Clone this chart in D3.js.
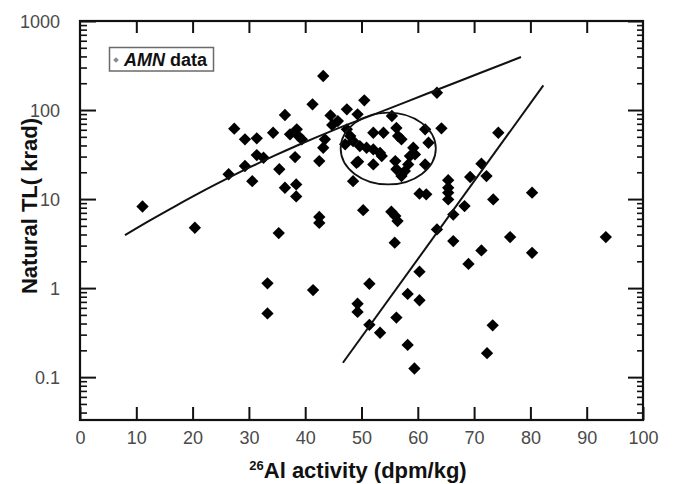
<!DOCTYPE html>
<html>
<head>
<meta charset="utf-8">
<script src="https://cdn.jsdelivr.net/npm/d3@7"></script>
<style>
  body { margin: 0; background: #fff; }
  svg { display: block; }
</style>
</head>
<body>
<svg id="chart" width="676" height="484"></svg>
<script>
// 26Al activity (dpm/kg) of each meteorite
const alActivity = [
  11.1, 20.4, 26.4, 27.4, 29.3, 31.4, 29.3, 30.6, 31.4, 32.6,
  34.3, 35.4, 36.4, 36.4, 37.3, 38.5, 38.8, 39.4, 38.2, 38.4,
  38.4, 35.3, 41.3, 42.5, 42.5, 42.5, 43.2, 43.2, 43.5, 44.5,
  44.8, 45.8, 33.3, 33.3, 41.4, 47.4, 50.5, 49.3, 47.4, 48.0,
  47.1, 48.5, 49.4, 52.1, 53.9, 55.4, 56.2, 56.5, 57.1, 61.3,
  61.9, 49.7, 50.9, 52.1, 53.3, 53.6, 49.1, 52.1, 56.0, 56.2,
  59.2, 58.6, 59.5, 58.3, 57.7, 57.1, 61.3, 63.4, 64.2, 48.5,
  60.3, 61.5, 65.4, 65.4, 65.4, 65.4, 69.3, 71.3, 72.2, 73.4,
  80.3, 74.3, 50.3, 55.3, 56.0, 56.4, 68.3, 66.3, 63.4, 76.4,
  93.4, 55.9, 66.3, 71.3, 80.3, 69.0, 60.3, 51.4, 58.2, 60.3,
  49.3, 49.3, 51.4, 56.2, 53.3, 58.2, 59.4, 73.3, 72.3
];
// Natural TL (krad) of each meteorite
const naturalTL = [
  8.25, 4.76, 19.0, 61.7, 46.9, 48.1, 23.5, 15.9, 31.2, 29.1,
  55.6, 21.6, 87.9, 13.4, 53.3, 60.7, 51.0, 46.9, 29.6, 14.6,
  10.7, 4.15, 116, 26.7, 6.3, 5.4, 241, 37.7, 46.9, 87.0,
  67.9, 75.2, 1.13, 0.52, 0.95, 101.8, 128.5, 89.5, 60.7, 51.0,
  41.2, 44.9, 26.3, 55.6, 55.6, 85.7, 63.0, 51.0, 46.9, 60.7,
  42.9, 39.4, 37.7, 36.1, 33.0, 30.4, 25.6, 24.5, 26.7, 21.6,
  37.7, 30.4, 31.7, 24.5, 20.6, 18.1, 24.5, 156.5, 62.3, 15.9,
  11.5, 11.3, 16.3, 13.4, 11.8, 9.9, 17.7, 25.0, 18.1, 9.9,
  11.8, 55.6, 7.5, 7.2, 6.45, 5.66, 8.34, 6.7, 4.56, 3.74,
  3.74, 3.24, 3.37, 2.65, 2.49, 1.87, 1.53, 1.12, 0.86, 0.73,
  0.667, 0.54, 0.387, 0.466, 0.315, 0.23, 0.125, 0.382, 0.186
];

// Upper trend curve
const upperCurveAl = [7.99, 12.43, 16.87, 21.31, 25.75, 30.20, 34.64, 39.08, 44.40, 53.29, 62.17, 71.05, 78.33];
const upperCurveTL = [3.94, 5.77, 8.30, 11.8, 16.5, 22.8, 30.9, 41.3, 57.3, 94.9, 157.3, 260.4, 394];

// Lower trend line
const lowerLineAl = [46.7, 82.3];
const lowerLineTL = [0.145, 189];

// Ellipse enclosing the dense group (bounding extents)
const groupAl = [46.3, 63.2];
const groupTL = [14.6, 93.6];

// Axis ticks
const xTickValues = [0, 10, 20, 30, 40, 50, 60, 70, 80, 90, 100];
const yTickValues = [0.1, 1, 10, 100, 1000];
const yTickLabels = ["0.1", "1", "10", "100", "1000"];

const legendLabelItalic = "AMN";
const legendLabelRest = " data";

const svg = d3.select("#chart");
const frame = { left: 80, right: 643, top: 21, bottom: 420 };

const x = d3.scaleLinear().domain([0, 100]).range([frame.left, frame.right]);
const y = d3.scaleLog().domain([0.033, 1000]).range([frame.bottom, frame.top]);

const ink = "#111";
const tickFont = "'Liberation Sans', Arial, Helvetica, sans-serif";

// Minor log ticks (2..9 in each decade)
const yMinor = [];
[0.01, 0.1, 1, 10, 100].forEach(d => {
  for (let k = 2; k <= 9; k++) {
    const v = d * k;
    if (v >= 0.033 && v <= 1000) yMinor.push(v);
  }
});

const gAxes = svg.append("g");

// Bottom axis
const bottomAxis = d3.axisBottom(x).tickValues(xTickValues).tickSizeInner(-13).tickSizeOuter(0).tickPadding(22)
  .tickFormat(d3.format("d"));
const gb = gAxes.append("g").attr("transform", `translate(0,${frame.bottom})`).call(bottomAxis);

// Top axis (ticks only)
const topAxis = d3.axisTop(x).tickValues(xTickValues.slice(1, -1)).tickSizeInner(-12).tickSizeOuter(0).tickFormat("");
const gt = gAxes.append("g").attr("transform", `translate(0,${frame.top})`).call(topAxis);

// Left axis, major and minor
const leftAxis = d3.axisLeft(y).tickValues(yTickValues).tickSizeInner(-16).tickSizeOuter(0).tickPadding(20)
  .tickFormat((d, i) => yTickLabels[i]);
const gl = gAxes.append("g").attr("transform", `translate(${frame.left},0)`).call(leftAxis);
const leftMinor = d3.axisLeft(y).tickValues(yMinor).tickSizeInner(-7).tickSizeOuter(0).tickFormat("");
const glm = gAxes.append("g").attr("transform", `translate(${frame.left},0)`).call(leftMinor);

// Right axis, major and minor
const rightAxis = d3.axisRight(y).tickValues(yTickValues).tickSizeInner(-15).tickSizeOuter(0).tickFormat("");
const gr = gAxes.append("g").attr("transform", `translate(${frame.right},0)`).call(rightAxis);
const rightMinor = d3.axisRight(y).tickValues(yMinor).tickSizeInner(-6).tickSizeOuter(0).tickFormat("");
const grm = gAxes.append("g").attr("transform", `translate(${frame.right},0)`).call(rightMinor);

[gb, gt, gl, glm, gr, grm].forEach(g => {
  g.select(".domain").remove();
  g.selectAll(".tick line").attr("stroke", ink).attr("stroke-width", 2);
  g.selectAll(".tick text")
    .attr("fill", "#4a4a4a")
    .style("font-family", tickFont)
    .style("font-size", "18px");
});
glm.selectAll(".tick line").attr("stroke-width", 1.6);
grm.selectAll(".tick line").attr("stroke-width", 1.6);
gl.selectAll(".tick text").attr("dy", "0.36em");
gb.selectAll(".tick text").attr("dy", "0.1em");

// Frame
svg.append("rect")
  .attr("x", frame.left).attr("y", frame.top)
  .attr("width", frame.right - frame.left).attr("height", frame.bottom - frame.top)
  .attr("fill", "none").attr("stroke", ink).attr("stroke-width", 2.2);

// Data points: black diamonds
const diamond = d3.symbol().type(d3.symbolSquare).size(76);
svg.append("g").selectAll("path")
  .data(alActivity.map((a, i) => ({ a, tl: naturalTL[i] })))
  .join("path")
  .attr("d", diamond)
  .attr("transform", d => `translate(${x(d.a)},${y(d.tl)}) rotate(45)`)
  .attr("fill", "#000");

// Upper curve
const line = d3.line().x(d => x(d[0])).y(d => y(d[1])).curve(d3.curveMonotoneX);
svg.append("path")
  .datum(upperCurveAl.map((a, i) => [a, upperCurveTL[i]]))
  .attr("d", line)
  .attr("fill", "none").attr("stroke", ink).attr("stroke-width", 2);

// Lower line
svg.append("path")
  .datum(lowerLineAl.map((a, i) => [a, lowerLineTL[i]]))
  .attr("d", d3.line().x(d => x(d[0])).y(d => y(d[1])))
  .attr("fill", "none").attr("stroke", ink).attr("stroke-width", 2);

// Ellipse around the dense group
const ex0 = x(groupAl[0]), ex1 = x(groupAl[1]);
const ey0 = y(groupTL[1]), ey1 = y(groupTL[0]);
svg.append("ellipse")
  .attr("cx", (ex0 + ex1) / 2).attr("cy", (ey0 + ey1) / 2)
  .attr("rx", (ex1 - ex0) / 2).attr("ry", (ey1 - ey0) / 2)
  .attr("fill", "none").attr("stroke", ink).attr("stroke-width", 1.8);

// Legend
const lg = svg.append("g");
lg.append("rect")
  .attr("x", 109.5).attr("y", 47.5).attr("width", 104).attr("height", 23.5)
  .attr("fill", "#fff").attr("stroke", "#6a6a6a").attr("stroke-width", 1.5);
lg.append("path")
  .attr("d", d3.symbol().type(d3.symbolSquare).size(16))
  .attr("transform", "translate(116,60) rotate(45)")
  .attr("fill", "#8a8a8a");
const lt = lg.append("text")
  .attr("x", 124).attr("y", 65.5)
  .style("font-family", tickFont).style("font-size", "18px").style("font-weight", "bold")
  .attr("fill", ink);
lt.append("tspan").style("font-style", "italic").text(legendLabelItalic);
lt.append("tspan").text(legendLabelRest);

// Axis titles
svg.append("text")
  .attr("transform", "translate(37,206) rotate(-90)")
  .attr("text-anchor", "middle")
  .style("font-family", tickFont).style("font-size", "22px").style("font-weight", "bold")
  .attr("fill", ink)
  .text("Natural TL( krad)");

const xt = svg.append("text")
  .attr("x", 358).attr("y", 478)
  .attr("text-anchor", "middle")
  .style("font-family", tickFont).style("font-size", "22px").style("font-weight", "bold")
  .attr("fill", ink);
xt.append("tspan").style("font-size", "13px").attr("dy", "-8").text("26");
xt.append("tspan").attr("dy", "8").text("Al activity (dpm/kg)");
</script>
</body>
</html>
